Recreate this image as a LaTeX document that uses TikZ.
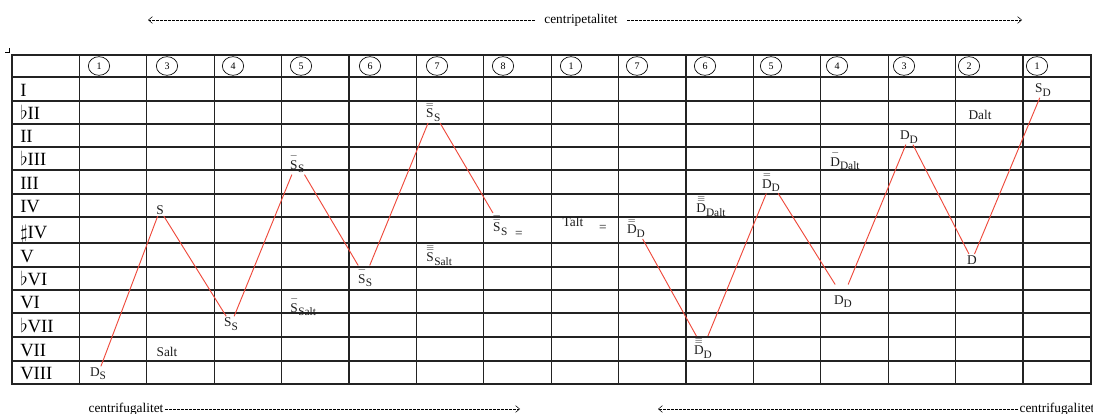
\documentclass[tikz,border=0pt]{standalone}
\usepackage{amsmath,amssymb}
\usepackage{fontspec}
\setmainfont{Liberation Serif}
\usepackage{xcolor}
\usepackage{tikz}
\usetikzlibrary{arrows.meta,positioning,shapes.geometric}
\definecolor{zigRed}{RGB}{238,74,60}
\definecolor{gridDark}{RGB}{35,35,35}
\definecolor{lblGray}{RGB}{30,30,30}
\newcommand{\barone}[1]{$\overset{\scriptstyle -}{\mathrm{#1}}$}
\newcommand{\bartwo}[1]{$\overset{\scriptstyle =}{\mathrm{#1}}$}
\newcommand{\barthree}[1]{$\overset{\scriptstyle \equiv}{\mathrm{#1}}$}
\newcommand{\lowsub}[1]{\raisebox{-2.5pt}{\fontsize{8.5}{9}\selectfont #1}}

\begin{document}
\begin{tikzpicture}[x=0.75pt,y=-0.75pt,
    cell/.style={text=lblGray, font=\fontsize{10}{11}\selectfont, inner sep=1pt},
    rowlbl/.style={anchor=base west, font=\fontsize{14}{16}\selectfont, inner sep=0pt},
    numring/.style={draw, ellipse, minimum width=16pt, minimum height=14pt, inner sep=0pt,
        line width=0.5pt, font=\fontsize{7.5}{8}\selectfont},
    zig/.style={zigRed, line width=0.7pt},
    flow/.style={dash pattern=on 2pt off 1pt, line width=0.4pt, -{Straight Barb[length=3pt,width=5pt]}},
    dirtxt/.style={font=\fontsize{10}{12}\selectfont, inner xsep=7pt}]
    \useasboundingbox (0,0) rectangle (1093,414);

    % direction above
    \node[dirtxt] (cpt) at (581,20) {centripetalitet};
    \coordinate (cptL) at (148,20);
    \coordinate (cptR) at (1022,20);
    \draw[flow] (cpt.west) -- (cptL);
    \draw[flow] (cpt.east) -- (cptR);

    % table
    \draw[line width=0.5pt] (5,52) -- (9,52) -- (9,48);
    \draw[gridDark, line width=0.9pt] (12,55) rectangle (1091,384);
    \foreach \y in {77,101,124,147,170,194,217,243,267,290,313,337,361}
        \draw[gridDark, line width=0.9pt] (12,\y) -- (1091,\y);
    \foreach \i in {1,...,15}
        \draw[gridDark, line width=0.9pt] ({12+67.4*\i},55) -- ({12+67.4*\i},384);

    \foreach \x/\n [count=\k] in {99/1,167/3,233/4,301/5,370/6,437/7,503/8,571/1,
        637/7,705/6,771/5,837/4,904/3,969/2,1037/1}
        \node[numring] (h\k) at (\x,66) {\n};

    \foreach \y/\t in {96/I,119/$\flat$II,142/II,165/$\flat$III,189/III,212/IV,
        238/$\sharp$IV,262/V,285/$\flat$VI,308/VI,332/$\flat$VII,356/VII,379/VIII}
        \node[rowlbl] at (20,\y) {\t};

    % cell labels
    \node[cell] (ds) at (98,374) {D\lowsub{S}};
    \node[cell] (s) at (160,210) {S};
    \node[cell] (salt) at (167,352) {Salt};
    \node[cell] (ss) at (231,324) {S\lowsub{S}};
    \node[cell] (bss) at (297,162) {\barone{S}\lowsub{S}};
    \node[cell] (bssalt) at (303,305) {\barone{S}\lowsub{Salt}};
    \node[cell] (bbss) at (365,277) {\bartwo{S}\lowsub{S}};
    \node[cell] (bbbss) at (433,111) {\barthree{S}\lowsub{S}};
    \node[cell] (bbbssalt) at (439,255) {\barthree{S}\lowsub{Salt}};
    \node[cell] (bbbsst) at (500,225) {\barthree{S}\lowsub{S}};
    \node[cell] (eqa) at (519,234) {=};
    \node[cell] (talt) at (573,222) {Talt};
    \node[cell] (eqb) at (603,228) {=};
    \node[cell] (bbbdd) at (636,227) {\barthree{D}\lowsub{D}};
    \node[cell] (bbbddalt) at (711,206) {\barthree{D}\lowsub{Dalt}};
    \node[cell] (bbbddb) at (703,348) {\barthree{D}\lowsub{D}};
    \node[cell] (bbdd) at (771,182) {\bartwo{D}\lowsub{D}};
    \node[cell] (bddalt) at (845,159) {\barone{D}\lowsub{Dalt}};
    \node[cell] (bdd) at (843,297) {\barone{D}\lowsub{D}};
    \node[cell] (dd) at (909,137) {D\lowsub{D}};
    \node[cell] (dalt) at (980,115) {Dalt};
    \node[cell] (d) at (972,260) {D};
    \node[cell] (sd) at (1043,90) {S\lowsub{D}};

    % zigzag
    \draw[zig] (ds) -- (s);
    \draw[zig] (s) -- (ss);
    \draw[zig] (ss) -- (bss);
    \draw[zig] (bss) -- (bbss);
    \draw[zig] (bbss) -- (bbbss);
    \draw[zig] (bbbss) -- (bbbsst);
    \draw[zig] (bbbdd) -- (bbbddb);
    \draw[zig] (bbbddb) -- (bbdd);
    \draw[zig] (bbdd) -- (bdd);
    \draw[zig] (bdd) -- (dd);
    \draw[zig] (dd) -- (d);
    \draw[zig] (d) -- (sd);

    % directions below
    \node[dirtxt, anchor=west, inner xsep=1pt] (cfl) at (87,409) {centrifugalitet};
    \coordinate (cflR) at (520,409);
    \draw[flow] (cfl.east) -- (cflR);
    \node[dirtxt, anchor=west, inner xsep=1pt] (cfr) at (1018,409) {centrifugalitet};
    \coordinate (cfrL) at (658,409);
    \draw[flow] (cfr.west) -- (cfrL);
\end{tikzpicture}
\end{document}
